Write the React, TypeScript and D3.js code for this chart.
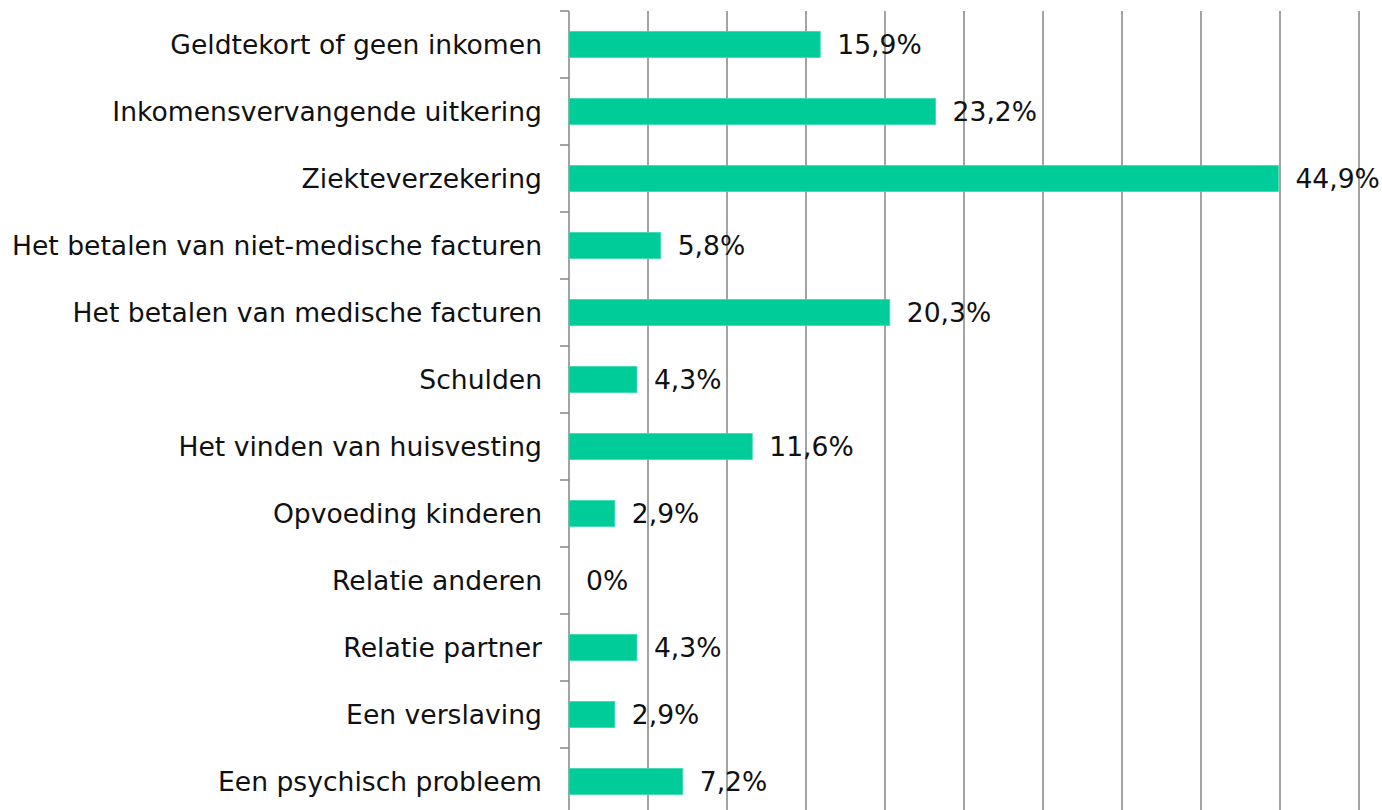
import React from "react";
import * as d3 from "d3";

const categories = [
  "Geldtekort of geen inkomen",
  "Inkomensvervangende uitkering",
  "Ziekteverzekering",
  "Het betalen van niet-medische facturen",
  "Het betalen van medische facturen",
  "Schulden",
  "Het vinden van huisvesting",
  "Opvoeding kinderen",
  "Relatie anderen",
  "Relatie partner",
  "Een verslaving",
  "Een psychisch probleem",
];
const values = [15.9, 23.2, 44.9, 5.8, 20.3, 4.3, 11.6, 2.9, 0, 4.3, 2.9, 7.2];
const xTicks = [0, 5, 10, 15, 20, 25, 30, 35, 40, 45, 50];

const W = 1382;
const H = 810;
const left = 569;
const right = 1359;
const top = 11;
const band = 67;

const fmt = (v: number) => (v === 0 ? "0%" : v.toFixed(1).replace(".", ",") + "%");

export default function App() {
  if (typeof document !== "undefined") document.body.style.margin = "0";
  const x = d3.scaleLinear().domain([0, 50]).range([left, right]);
  const y = d3
    .scaleBand<string>()
    .domain(categories)
    .range([top, top + band * categories.length])
    .paddingInner(0.61)
    .paddingOuter(0.305);
  const font = "'DejaVu Sans', Verdana, sans-serif";
  const fs = 26.6;
  const bottom = top + band * categories.length;
  return (
    <svg width={W} height={H} style={{ display: "block" }}>
      {xTicks.slice(1).map((t) => (
        <line key={t} x1={x(t)} x2={x(t)} y1={top} y2={bottom} stroke="#8c8c8c" strokeWidth={1.6} />
      ))}
      <line x1={left} x2={left} y1={top} y2={bottom} stroke="#8c8c8c" strokeWidth={1.6} />
      {d3.range(categories.length + 1).map((i) => (
        <line key={i} x1={left - 9} x2={left} y1={top + i * band} y2={top + i * band} stroke="#8c8c8c" strokeWidth={1.6} />
      ))}
      {categories.map((c, i) => {
        const yy = y(c)!;
        const bw = y.bandwidth();
        const v = values[i];
        return (
          <g key={c}>
            {v > 0 && (
              <rect x={x(0)} y={yy} width={x(v) - x(0)} height={bw} fill="#00cc99" stroke="#3fd9b0" strokeWidth={0.8} />
            )}
            <text x={left - 27} y={yy + bw / 2} dy="0.35em" textAnchor="end" fontFamily={font} fontSize={fs} fill="#111">
              {c}
            </text>
            <text x={x(v) + 17} y={yy + bw / 2} dy="0.35em" fontFamily={font} fontSize={fs} fill="#111">
              {fmt(v)}
            </text>
          </g>
        );
      })}
    </svg>
  );
}
